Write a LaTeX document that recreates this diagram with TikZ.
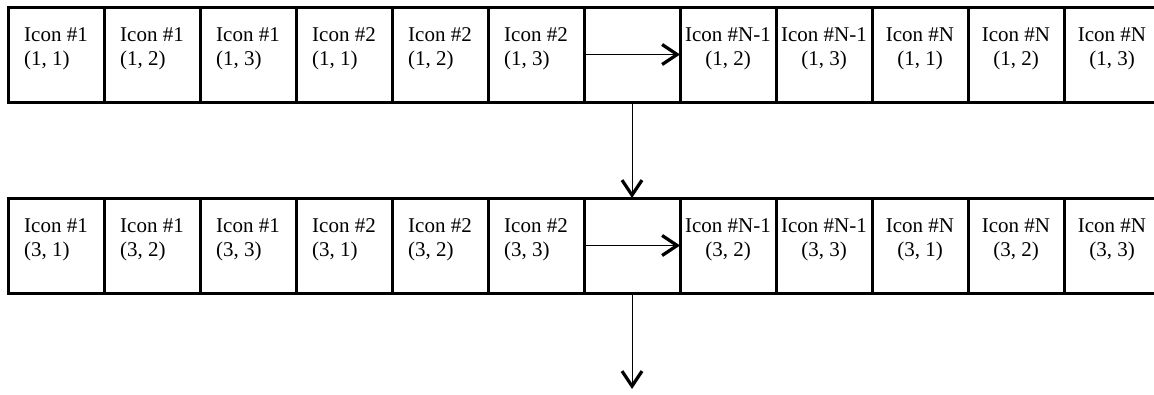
\documentclass[tikz,border=0pt]{standalone}
\usepackage{fontspec}
\setmainfont{Liberation Serif}
\usetikzlibrary{arrows.meta, positioning}

\begin{document}
\begin{tikzpicture}[
  x=1pt, y=1pt,
  font=\fontsize{21pt}{24pt}\selectfont,
  cell/.style={rectangle, draw, line width=3pt, outer sep=0pt, inner sep=0pt,
               minimum width=96pt, minimum height=95pt, text depth=15.5pt},
  lcell/.style={cell, align=left},
  ccell/.style={cell, align=center},
  arr/.style={-{Straight Barb[length=15pt, width=20pt, line width=3.2pt]}, line width=1pt}]
  \useasboundingbox (0,0) rectangle (1154,-394);
  % first row
  \node[lcell] (r1c1) at (56,-54.5) {Icon \#1\\(1, 1)};
  \node[lcell, right=0pt of r1c1]  (r1c2)  {Icon \#1\\(1, 2)};
  \node[lcell, right=0pt of r1c2]  (r1c3)  {Icon \#1\\(1, 3)};
  \node[lcell, right=0pt of r1c3]  (r1c4)  {Icon \#2\\(1, 1)};
  \node[lcell, right=0pt of r1c4]  (r1c5)  {Icon \#2\\(1, 2)};
  \node[lcell, right=0pt of r1c5]  (r1c6)  {Icon \#2\\(1, 3)};
  \node[cell,  right=0pt of r1c6]  (r1gap) {};
  \node[ccell, right=0pt of r1gap] (r1c8)  {Icon \#N-1\\(1, 2)};
  \node[ccell, right=0pt of r1c8]  (r1c9)  {Icon \#N-1\\(1, 3)};
  \node[ccell, right=0pt of r1c9]  (r1c10) {Icon \#N\\(1, 1)};
  \node[ccell, right=0pt of r1c10] (r1c11) {Icon \#N\\(1, 2)};
  \node[ccell, right=0pt of r1c11] (r1c12) {Icon \#N\\(1, 3)};
  % second row
  \node[lcell, below=96pt of r1c1] (r2c1)  {Icon \#1\\(3, 1)};
  \node[lcell, right=0pt of r2c1]  (r2c2)  {Icon \#1\\(3, 2)};
  \node[lcell, right=0pt of r2c2]  (r2c3)  {Icon \#1\\(3, 3)};
  \node[lcell, right=0pt of r2c3]  (r2c4)  {Icon \#2\\(3, 1)};
  \node[lcell, right=0pt of r2c4]  (r2c5)  {Icon \#2\\(3, 2)};
  \node[lcell, right=0pt of r2c5]  (r2c6)  {Icon \#2\\(3, 3)};
  \node[cell,  right=0pt of r2c6]  (r2gap) {};
  \node[ccell, right=0pt of r2gap] (r2c8)  {Icon \#N-1\\(3, 2)};
  \node[ccell, right=0pt of r2c8]  (r2c9)  {Icon \#N-1\\(3, 3)};
  \node[ccell, right=0pt of r2c9]  (r2c10) {Icon \#N\\(3, 1)};
  \node[ccell, right=0pt of r2c10] (r2c11) {Icon \#N\\(3, 2)};
  \node[ccell, right=0pt of r2c11] (r2c12) {Icon \#N\\(3, 3)};
  \coordinate[below=96pt of r2gap.south] (next);
  \draw[arr] (r1gap.west)  -- (r1gap.east);
  \draw[arr] (r1gap.south) -- (r2gap.north);
  \draw[arr] (r2gap.west)  -- (r2gap.east);
  \draw[arr] (r2gap.south) -- (next);
\end{tikzpicture}
\end{document}
